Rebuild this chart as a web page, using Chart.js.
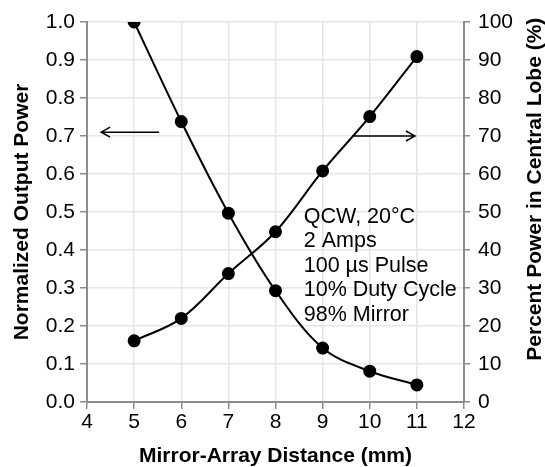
<!DOCTYPE html>
<html>
<head>
<meta charset="utf-8">
<script src="https://cdn.jsdelivr.net/npm/chart.js@4.4.0/dist/chart.umd.min.js"></script>
<style>
  html, body { margin: 0; padding: 0; background: #fff; }
  #wrap { width: 545px; height: 467px; }
</style>
</head>
<body>
<div id="wrap"><canvas id="chart"></canvas></div>
<script>
// data
const distances = [5, 6, 7, 8, 9, 10, 11];
const outputPower = [1.0, 0.738, 0.497, 0.293, 0.142, 0.081, 0.045];
const centralLobe = [16.1, 22.0, 33.8, 44.8, 60.8, 75.1, 90.9];

const xTicks = [4, 5, 6, 7, 8, 9, 10, 11, 12];
const leftTicks = [0, 0.1, 0.2, 0.3, 0.4, 0.5, 0.6, 0.7, 0.8, 0.9, 1.0];
const rightTicks = [0, 10, 20, 30, 40, 50, 60, 70, 80, 90, 100];

const noteLines = ["QCW, 20°C", "2 Amps", "100 µs Pulse", "10% Duty Cycle", "98% Mirror"];
const rightTitle = 'Percent Power in Central Lobe (%)';

// arrows pointing to each series' axis: x from -> to, y on that axis
const arrowLeftX = [5.53, 4.3];
const arrowLeftY = 0.71;
const arrowRightX = [9.63, 10.96];
const arrowRightY = 70;

const FONT = '"Liberation Sans", Arial, sans-serif';
const AXIS_GRAY = '#8c8c8c';
const GRID_GRAY = '#e6e6e6';
const TICK_SIZE = 21;
const TITLE_SIZE = 21;

function toPoints(xs, ys) {
  return xs.map((v, i) => ({ x: v, y: ys[i] }));
}

function fixTicks(list) {
  return scale => { scale.ticks = list.map(v => ({ value: v })); };
}

function drawArrow(ctx, x1, y1, x2, y2) {
  const dir = Math.sign(x2 - x1);
  ctx.beginPath();
  ctx.moveTo(x1, y1);
  ctx.lineTo(x2, y2);
  ctx.moveTo(x2 - dir * 9, y2 - 5);
  ctx.lineTo(x2, y2);
  ctx.lineTo(x2 - dir * 9, y2 + 5);
  ctx.stroke();
}

const overlays = {
  id: 'overlays',
  afterDatasetsDraw(chart) {
    const { ctx, scales: { x, y, y2 } } = chart;
    ctx.save();
    ctx.strokeStyle = '#000';
    ctx.lineWidth = 1.5;
    drawArrow(ctx, x.getPixelForValue(arrowLeftX[0]), y.getPixelForValue(arrowLeftY),
      x.getPixelForValue(arrowLeftX[1]), y.getPixelForValue(arrowLeftY));
    drawArrow(ctx, x.getPixelForValue(arrowRightX[0]), y2.getPixelForValue(arrowRightY),
      x.getPixelForValue(arrowRightX[1]), y2.getPixelForValue(arrowRightY));

    ctx.fillStyle = '#000';
    ctx.font = '21.5px ' + FONT;
    ctx.textBaseline = 'alphabetic';
    ctx.textAlign = 'left';
    const nx = x.getPixelForValue(8.6);
    const ny = y.getPixelForValue(0.472);
    noteLines.forEach((t, i) => ctx.fillText(t, nx, ny + i * 24.5));

    // right axis title reads bottom to top, like the left one
    ctx.font = 'bold ' + TITLE_SIZE + 'px ' + FONT;
    ctx.textAlign = 'center';
    ctx.textBaseline = 'middle';
    ctx.translate(y2.right - 10, y2.getPixelForValue(56));
    ctx.rotate(-Math.PI / 2);
    ctx.fillText(rightTitle, 0, 0);
    ctx.restore();
  }
};

new Chart(document.getElementById('chart'), {
  type: 'line',
  data: {
    datasets: [
      {
        label: 'Normalized Output Power',
        data: toPoints(distances, outputPower),
        yAxisID: 'y',
        borderColor: '#000',
        backgroundColor: '#000',
        borderWidth: 2,
        pointRadius: 5.5,
        pointBackgroundColor: '#000',
        tension: 0.35
      },
      {
        label: rightTitle,
        data: toPoints(distances, centralLobe),
        yAxisID: 'y2',
        borderColor: '#000',
        backgroundColor: '#000',
        borderWidth: 2,
        pointRadius: 5.5,
        pointBackgroundColor: '#000',
        tension: 0.35
      }
    ]
  },
  options: {
    responsive: true,
    maintainAspectRatio: false,
    animation: false,
    layout: { padding: { top: 22, left: 0, right: 0, bottom: 0 } },
    plugins: { legend: { display: false }, tooltip: { enabled: false } },
    scales: {
      x: {
        type: 'linear',
        min: 4, max: 12,
        afterBuildTicks: fixTicks(xTicks),
        afterFit: s => { s.height = 65; },
        grid: { color: GRID_GRAY, lineWidth: 1.5, tickColor: AXIS_GRAY, tickLength: 7 },
        border: { color: AXIS_GRAY, width: 2 },
        ticks: { color: '#000', font: { family: FONT, size: TICK_SIZE }, padding: 1 },
        title: {
          display: true, text: 'Mirror-Array Distance (mm)', color: '#000',
          font: { family: FONT, size: TITLE_SIZE, weight: 'bold', lineHeight: 1.0 },
          padding: { top: 0, bottom: 0 }
        }
      },
      y: {
        position: 'left',
        min: 0, max: 1,
        afterBuildTicks: fixTicks(leftTicks),
        afterFit: s => { s.width = 87; },
        grid: { color: GRID_GRAY, lineWidth: 1.5, tickColor: AXIS_GRAY, tickLength: 7 },
        border: { color: AXIS_GRAY, width: 2 },
        ticks: {
          color: '#000', font: { family: FONT, size: TICK_SIZE }, padding: 5,
          callback: v => v.toFixed(1)
        },
        title: {
          display: true, text: 'Normalized Output Power', color: '#000',
          font: { family: FONT, size: TITLE_SIZE, weight: 'bold', lineHeight: 1.0 },
          padding: { top: 12, bottom: 0 }
        }
      },
      y2: {
        position: 'right',
        min: 0, max: 100,
        afterBuildTicks: fixTicks(rightTicks),
        afterFit: s => { s.width = 81; },
        grid: { drawOnChartArea: false, tickColor: AXIS_GRAY, tickLength: 6, lineWidth: 1.5 },
        border: { color: AXIS_GRAY, width: 2 },
        ticks: { color: '#000', font: { family: FONT, size: TICK_SIZE }, padding: 8 },
        title: { display: false }
      }
    }
  },
  plugins: [overlays]
});
</script>
</body>
</html>
